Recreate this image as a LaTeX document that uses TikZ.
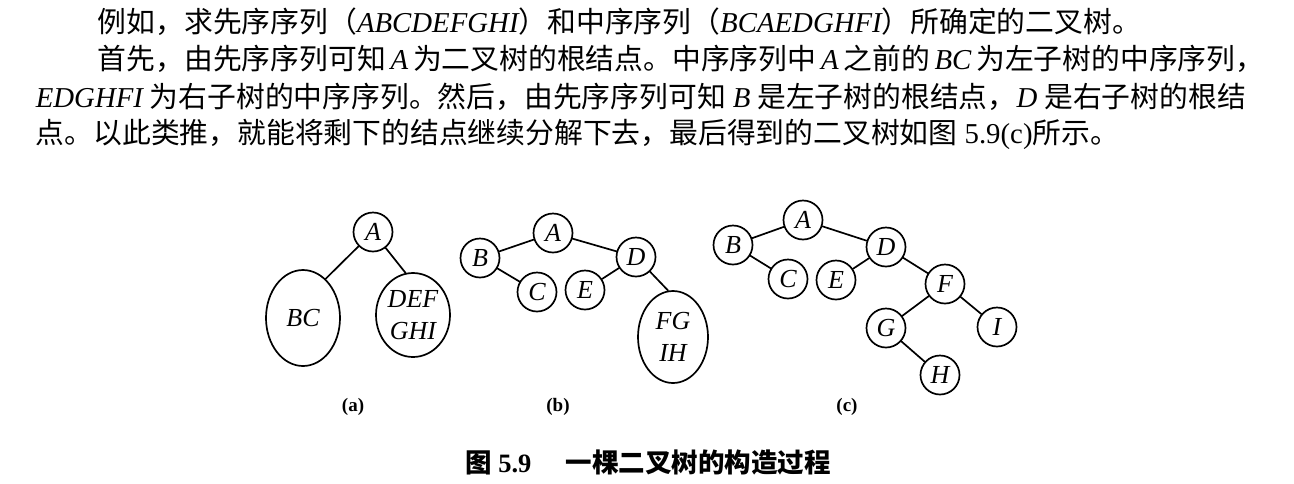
\documentclass[tikz,border=0pt]{standalone}
\usepackage{fontspec}
\setmainfont{Liberation Serif}
\newfontfamily\zhfont{Noto Sans CJK SC}
\usetikzlibrary{shapes.geometric}
\XeTeXlinebreaklocale "zh"
\XeTeXlinebreakskip=0pt plus 1pt minus 0.6pt
\newcommand{\latit}[1]{{\rmfamily\itshape #1}}
\newcommand{\latrm}[1]{{\rmfamily #1}}

\begin{document}
\begin{tikzpicture}[x=1pt,y=-1pt,line width=1.7pt,line cap=round,
    textline/.style={anchor=west,inner sep=0pt,font=\fontsize{28.8}{34}\zhfont},
    treenode/.style={circle,draw,minimum size=39pt,inner sep=0pt,font=\fontsize{26}{28}\rmfamily\itshape},
    subtree/.style={ellipse,draw,inner sep=0pt,align=center,font=\fontsize{26}{32}\rmfamily\itshape},
    sublabel/.style={font=\fontsize{19}{21}\rmfamily\bfseries},
    figcaption/.style={font=\fontsize{26.5}{30}\zhfont\bfseries}]
        \useasboundingbox (0,0) rectangle (1294,483);

        % draw the text above the figure
        \node[textline] (line1) at (97,22)
            {例如，求先序序列（\latit{ABCDEFGHI}）和中序序列（\latit{BCAEDGHFI}）所确定的二叉树。};
        \node[textline] (line2) at (97,59)
            {\makebox[1148pt][s]{首先，由先序序列可知\latit{ A }为二叉树的根结点。中序序列中\latit{ A }之前的\latit{ BC }为左子树的中序序列，}};
        \node[textline] (line3) at (35,97)
            {\makebox[1210pt][s]{\latit{EDGHFI }为右子树的中序序列。然后，由先序序列可知\latit{ B }是左子树的根结点，\latit{D }是右子树的根结}};
        \node[textline] (line4) at (35,134)
            {点。以此类推，就能将剩下的结点继续分解下去，最后得到的二叉树如图\latrm{ 5.9(c)}所示。};

        % draw tree (a)
        \node[treenode] (aA) at (373,232) {A};
        \node[subtree, minimum width=74pt, minimum height=96pt] (aBC) at (303,318) {BC};
        \node[subtree, minimum width=74pt, minimum height=84pt] (aDEF) at (413,315) {DEF\\GHI};
        \draw (aA) -- (aBC.60);
        \draw (aA) -- (aDEF.100);
        \node[sublabel] (alabel) at (353,407) {(a)};

        % draw tree (b)
        \node[treenode] (bA) at (553,233) {A};
        \node[treenode] (bB) at (480,258) {B};
        \node[treenode] (bC) at (537,292) {C};
        \node[treenode] (bD) at (636,257) {D};
        \node[treenode] (bE) at (585,290) {E};
        \node[subtree, minimum width=70pt, minimum height=92pt] (bFG) at (673,337) {FG\\IH};
        \draw (bA) -- (bB);
        \draw (bB) -- (bC);
        \draw (bA) -- (bD);
        \draw (bD) -- (bE);
        \draw (bD) -- (bFG.96);
        \node[sublabel] (blabel) at (558,407) {(b)};

        % draw tree (c)
        \node[treenode] (cA) at (803,220) {A};
        \node[treenode] (cB) at (733,245) {B};
        \node[treenode] (cC) at (788,279) {C};
        \node[treenode] (cD) at (886,247) {D};
        \node[treenode] (cE) at (836,280) {E};
        \node[treenode] (cF) at (945,284) {F};
        \node[treenode] (cG) at (886,328) {G};
        \node[treenode] (cI) at (997,327) {I};
        \node[treenode] (cH) at (940,375) {H};
        \draw (cA) -- (cB);
        \draw (cB) -- (cC);
        \draw (cA) -- (cD);
        \draw (cD) -- (cE);
        \draw (cD) -- (cF);
        \draw (cF) -- (cG);
        \draw (cF) -- (cI);
        \draw (cG) -- (cH);
        \node[sublabel] (clabel) at (847,407) {(c)};

        % the caption
        \node[figcaption] (caption) at (648,462) {图\latrm{ 5.9}\hspace{1.3em}一棵二叉树的构造过程};
\end{tikzpicture}
\end{document}
